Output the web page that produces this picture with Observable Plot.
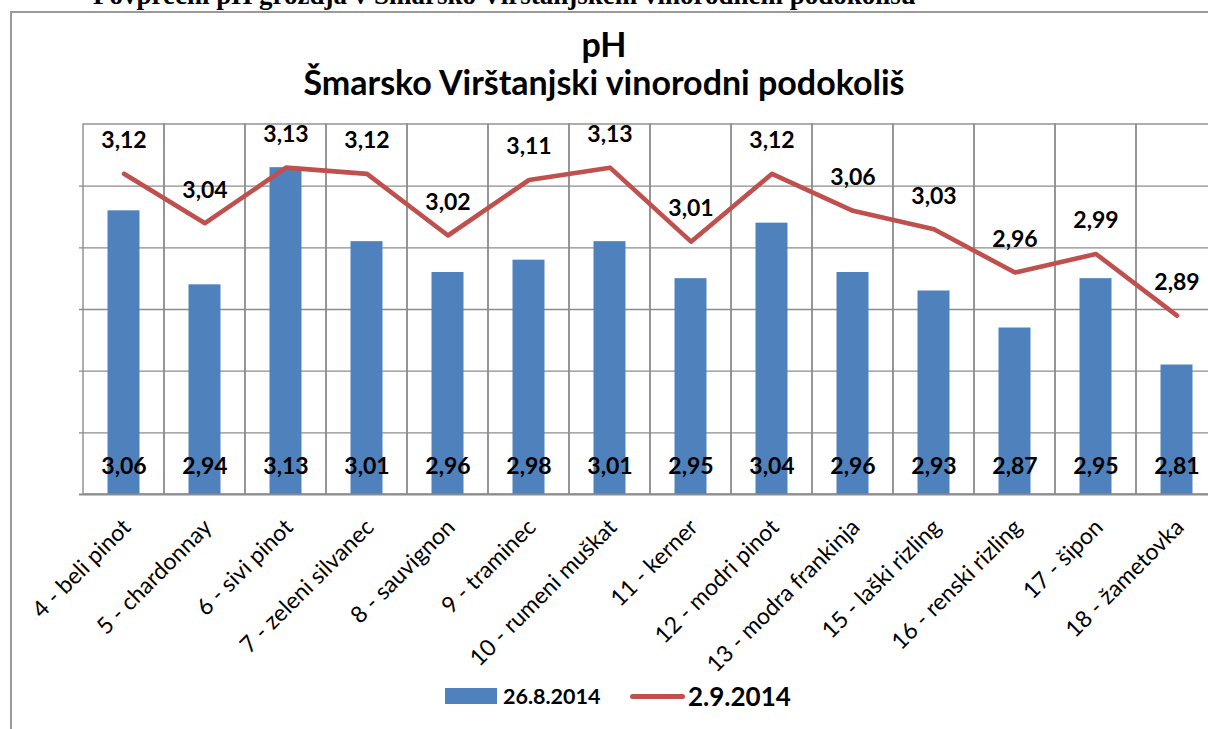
<!DOCTYPE html>
<html>
<head>
<meta charset="utf-8">
<script src="https://cdn.jsdelivr.net/npm/d3@7"></script>
<script src="https://cdn.jsdelivr.net/npm/@observablehq/plot@0.6"></script>
<style>
  html, body { margin: 0; padding: 0; background: #fff; overflow: hidden; }
  #wrap { position: relative; width: 1208px; height: 729px; overflow: hidden; font-family: Lato, "Open Sans", sans-serif; }
  #cut { position: absolute; left: 93px; top: -18px; font: bold 27px "Liberation Serif", "DejaVu Serif", serif; line-height: 27px; white-space: nowrap; color: #000; }
  #frame { position: absolute; left: 10px; top: 11px; width: 1300px; height: 800px; border-left: 2px solid #9a9a9a; border-top: 2px solid #9a9a9a; }
  .title { position: absolute; left: 0; width: 1208px; text-align: center; font-weight: bold; color: #000; white-space: nowrap; font-size: 34px; line-height: 34px; }
  #t1 { top: 27px; }
  #t2 { top: 65px; }
  #chart { position: absolute; left: 0; top: 0; }
  #legend { position: absolute; left: 0; top: 684px; width: 1208px; height: 26px; }
  .sw { position: absolute; }
  .lab { position: absolute; font-weight: bold; color: #000; white-space: nowrap; }
</style>
</head>
<body>
<div id="wrap">
  <div id="cut">Povprečni pH grozdja  v Šmarsko Virštanjskem  vinorodnem podokolišu</div>
  <div id="frame"></div>
  <div class="title" id="t1">pH</div>
  <div class="title" id="t2">Šmarsko Virštanjski vinorodni podokoliš</div>
  <div id="chart"></div>
  <div id="legend">
    <div class="sw" style="left:445px; top:4px; width:52px; height:16px; background:#4F81BD;"></div>
    <div class="lab" style="left:503px; top:0px; font-size:21.5px; line-height:24px;">26.8.2014</div>
    <div class="sw" style="left:630px; top:9.5px; width:55px; height:5px; border-radius:2.5px; background:#C0504D;"></div>
    <div class="lab" style="left:688px; top:-2px; font-size:26px; line-height:28px;">2.9.2014</div>
  </div>
</div>
<script>
// ---- data ----
const categories = [
  "4 - beli pinot", "5 - chardonnay", "6 - sivi pinot", "7 - zeleni silvanec",
  "8 - sauvignon", "9 - traminec", "10 - rumeni muškat", "11 - kerner",
  "12 - modri pinot", "13 - modra frankinja", "15 - laški rizling",
  "16 - renski rizling", "17 - šipon", "18 - žametovka"
];
const series1Name = "26.8.2014";
const series1 = [3.06, 2.94, 3.13, 3.01, 2.96, 2.98, 3.01, 2.95, 3.04, 2.96, 2.93, 2.87, 2.95, 2.81];
const series2Name = "2.9.2014";
const series2 = [3.12, 3.04, 3.13, 3.12, 3.02, 3.11, 3.13, 3.01, 3.12, 3.06, 3.03, 2.96, 2.99, 2.89];
const yDomain = [2.6, 3.2];
const yGrid = [2.7, 2.8, 2.9, 3.0, 3.1];

// ---- table ----
const rows = categories.map((c, i) => ({name: c, a: series1[i], b: series2[i]}));
const fmt = v => v.toFixed(2).replace(".", ",");

const chart = Plot.plot({
  width: 1228,
  height: 664,
  marginLeft: 79,
  marginRight: 8,
  marginTop: 124,
  marginBottom: 170,
  x: {domain: categories, padding: 0},
  y: {domain: yDomain, axis: null},
  style: {background: "transparent", overflow: "visible", maxWidth: "none", fontFamily: "Lato, 'Open Sans', sans-serif", color: "#000"},
  marks: [
    Plot.ruleY(yGrid, {stroke: "#8c8c8c", strokeWidth: 1.4, strokeOpacity: 1}),
    Plot.barY(rows, {x: "name", y1: () => yDomain[0], y2: () => yDomain[1], fill: "none", stroke: "#8c8c8c", strokeWidth: 1.4}),
    Plot.barY(rows, {x: "name", y1: () => yDomain[0], y2: "a", fill: "#4F81BD", insetLeft: 24.5, insetRight: 24.5}),
    Plot.ruleY([yDomain[0]], {stroke: "#8c8c8c", strokeWidth: 2}),
    Plot.line(rows, {x: "name", y: "b", stroke: "#C0504D", strokeWidth: 4.6, strokeLinejoin: "round", strokeLinecap: "round"}),
    Plot.text(rows, {x: "name", y: "b", text: d => fmt(d.b), dy: -33, fontSize: 23, fontWeight: "bold", fill: "#000"}),
    Plot.text(rows, {x: "name", frameAnchor: "bottom", lineAnchor: "middle", text: d => fmt(d.a), dy: -27.5, fontSize: 23, fontWeight: "bold", fill: "#000"}),
    Plot.axisX({tickRotate: -45, tickSize: 0, tickPadding: 0, textAnchor: "end", lineAnchor: "middle", dy: 29, dx: 3, fontSize: 23, label: null, fill: "#000"})
  ]
});
document.getElementById("chart").appendChild(chart);
</script>
</body>
</html>
